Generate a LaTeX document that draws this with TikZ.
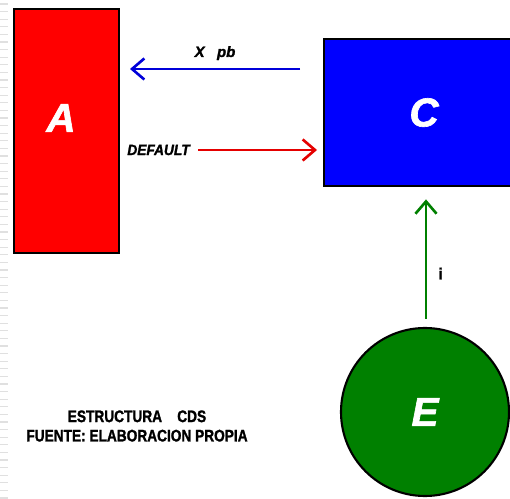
\documentclass[tikz,border=0pt]{standalone}
\usepackage{fontspec}
\setmainfont{Liberation Sans}
\newfontfamily\heavy[FakeBold=1.6]{Liberation Sans Bold}
\newfontfamily\heavyit[FakeBold=1.6]{Liberation Sans Bold Italic}
\usetikzlibrary{arrows.meta, positioning}

\begin{document}
\begin{tikzpicture}[x=0.02cm, y=-0.02cm,
    block/.style={draw=black, line width=1.2pt, inner sep=0pt, anchor=north west},
    letter/.style={text=white, font=\fontsize{23}{23}\selectfont\heavyit},
    link/.style={line width=1.5pt, -{Straight Barb[length=7pt, width=12pt, line width=1.5pt]}},
    tag/.style={text=black, font=\fontsize{8.5}{8.5}\selectfont\heavyit}]
    \clip (0,0) rectangle (510,499);
    \fill[white] (0,0) rectangle (510,499);
    % ruled margin
    \foreach \y in {4,11.6,...,499}
        \draw[black!12, line width=0.6pt] (0,\y) -- (8,\y);

    \node[block, fill=red, minimum width=105*0.02cm, minimum height=244*0.02cm] (a) at (13,8) {};
    \node[letter] (la) at (61,118) {A};
    \node[block, fill=blue, minimum width=200*0.02cm, minimum height=147*0.02cm] (c) at (323,38) {};
    \node[letter] (lc) at (c.center) {C};
    \node[draw=black, line width=1.2pt, circle, fill=green!50!black, minimum size=168*0.02cm, inner sep=0pt] (e) at (425,412) {};
    \node[letter] (le) at (e.center) {E};

    \coordinate (xs) at (300,69);
    \coordinate (xe) at (130,69);
    \draw[link, blue!85!black] (xs) -- (xe) node[midway, above=1pt, tag] {X \ \ pb};

    \node[tag, anchor=west, inner sep=0pt] (def) at (127,150) {\scalebox{0.92}[1]{DEFAULT}};
    \coordinate (ds) at (198,150);
    \coordinate (de) at (317,150);
    \draw[link, red!90!black] (ds) -- (de);

    \coordinate (es) at (426,319);
    \draw[link, green!50!black] (es) -- ([yshift=-7pt]c.south -| es) node[pos=0.38, right=3pt, text=black, font=\fontsize{9}{9}\selectfont\heavy] {i};

    \node[align=center, font=\fontsize{9.5}{11}\selectfont\heavy] (src) at (137,426)
        {\scalebox{0.82}[1]{ESTRUCTURA \ \ \ CDS}\\\scalebox{0.82}[1]{FUENTE: ELABORACION PROPIA}};
\end{tikzpicture}
\end{document}
